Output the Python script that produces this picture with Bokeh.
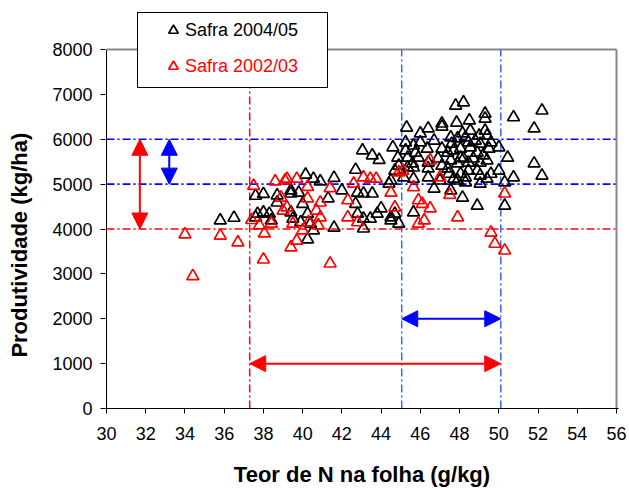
from bokeh.plotting import figure
from bokeh.models import (Range1d, FixedTicker, Arrow, NormalHead, Legend,
                          LegendItem)
from bokeh.embed import file_html
from bokeh.resources import INLINE

# ---- data: Safra 2004/05 (black) ----
safra0405_n = [
    35.8, 36.5, 37.6, 37.6, 38.0, 37.7, 38.0, 38.3, 38.4, 38.7, 38.7, 39.4, 39.4, 39.8,
    39.4, 39.5, 39.9, 40.0, 40.15, 40.55, 40.9, 40.25, 40.4, 40.25, 40.55, 41.3, 41.6,
    41.6, 42.0, 42.7, 42.8, 42.7, 42.8, 43.1, 43.55, 43.1, 43.1, 43.45, 43.8, 43.9, 44.4,
    44.5, 44.7, 43.05, 43.55,
    47.8, 48.2, 52.2, 50.75, 49.3, 49.3, 47.85, 48.5, 47.1, 47.1, 45.3, 46.4, 46.0, 48.55,
    49.3, 48.15, 51.8, 49.0, 49.4, 44.6, 45.25, 45.25, 45.65, 46.0, 46.7, 47.55, 47.6,
    47.9, 48.3, 48.45, 48.8, 49.05, 49.6, 50.0, 44.85, 45.35, 45.75, 45.9, 46.35, 47.1,
    47.4, 47.7, 48.05, 48.05, 48.55, 48.9, 49.2, 49.5, 50.45, 44.9, 45.35, 45.6, 46.4,
    46.9, 47.1, 47.55, 47.9, 48.2, 48.45, 48.7, 49.05, 49.4, 51.8, 44.7, 45.15, 45.65,
    46.4, 46.4, 47.4, 47.45, 48.05, 48.3, 48.45, 48.9, 49.05, 49.6, 50.0, 50.75, 52.2,
    44.5, 45.65, 47.0, 47.7, 47.9, 48.3, 49.05, 49.4, 50.3, 46.7, 47.55, 48.15, 50.3,
    48.9, 45.65, 44.5, 44.9, 44.0,
]
safra0405_prod = [
    4190, 4250, 4740, 4260, 4780, 4340, 4370, 4340, 4190, 4750, 4590, 4860, 4790, 4810,
    4370, 4230, 4150, 4560, 5210, 5120, 5060, 4340, 4120, 3770, 3970, 4680, 5140,
    4030, 4860, 5320, 4810, 4560, 4340, 4790, 4790, 4230, 4010, 4230, 4340, 5540, 5010,
    4190, 4340, 5750, 5640,
    6750, 6820, 6640, 6490, 6570, 6460, 6370, 6420, 6350, 6280, 6260, 6240, 6130, 6190,
    6190, 6130, 6240, 6080, 6080, 5820, 5930, 5750, 5860, 5930, 5970, 6040, 5900,
    6020, 6040, 5930, 5970, 5900, 5930, 5820, 5590, 5590, 5700, 5590, 5790, 5790,
    5700, 5750, 5790, 5590, 5820, 5700, 5640, 5790, 5590, 5410, 5370, 5460, 5480,
    5570, 5410, 5530, 5460, 5570, 5480, 5570, 5480, 5530, 5460, 5300, 5150, 5370,
    5350, 5150, 5350, 5230, 5230, 5150, 5300, 5300, 5190, 5230, 5300, 5150, 5190,
    5080, 5120, 5080, 5120, 5080, 5040, 5010, 5120, 5040, 4900, 4860, 4700, 4520,
    4520, 4370, 4260, 4120, 4460,
]

# ---- data: Safra 2002/03 (red) ----
safra0203_n = [
    34.0, 34.4, 35.8, 36.7, 37.4, 37.5, 37.8, 38.05, 38.4, 38.0, 38.6, 38.9, 39.1, 39.2,
    39.0, 39.7, 39.5, 39.4, 39.7, 40.0, 40.25, 40.25, 40.3, 40.7, 40.8, 40.9, 40.9, 41.4,
    41.4, 42.3, 42.3, 42.8, 42.6, 43.1, 43.45, 43.75, 44.5, 44.7, 44.9, 46.5, 45.1, 47.0,
    45.65, 45.9, 46.1, 46.5, 45.9, 46.2, 47.5, 47.9, 49.6, 49.8, 50.3, 50.3, 39.2,
]
safra0203_prod = [
    3880, 2950, 3850, 3700, 4200, 4960, 4080, 3900, 4120, 3320, 5060, 4700, 5080, 4480,
    4410, 5120, 4120, 3590, 3740, 3970, 4940, 4680, 4150, 4410, 4080, 4590, 4260, 3230,
    4910, 4640, 4260, 4150, 5010, 5150, 5120, 5120, 4810, 4480, 5260, 5530, 5300, 5150,
    4930, 4640, 4560, 4460, 4120, 4190, 4760, 4260, 3920, 3670, 3520, 4790, 5120,
]

# ---- reference levels ----
prod_levels_blue = [6000, 5000]
prod_level_red = 4000
n_red = 37.3
n_blue = [45.05, 50.1]

x_min, x_max = 30, 56
y_min, y_max = 0, 8000
x_ticks = list(range(30, 57, 2))
y_ticks = list(range(0, 8001, 1000))

series_labels = ["Safra 2004/05", "Safra 2002/03"]

FONT = "Liberation Sans"
RED = "#FF0000"
BLUE = "#0000FF"
BLUE_V = "#3366FF"
GRAY = "#888888"
DASH = "8 3 2 3"

# ---- layout (pixels) ----
W, H = 626, 489
AX_LEFT, AX_RIGHT, AX_TOP, AX_BOTTOM = 106, 616, 49, 408   # plot area of the axes
FRAME_TOP = 8                                               # frame extended for the legend
ppx = (AX_RIGHT - AX_LEFT) / (x_max - x_min)
ppy = (AX_BOTTOM - AX_TOP) / (y_max - y_min)
pad_l, pad_r = 1.0, 2.0
x_lo = x_min - pad_l / ppx
x_hi = x_max + pad_r / ppx
y_hi = y_max + (AX_TOP - FRAME_TOP) / ppy

p = figure(width=W, height=H, output_backend="svg", toolbar_location=None,
           x_range=Range1d(x_lo, x_hi), y_range=Range1d(y_min, y_hi),
           min_border_left=int(AX_LEFT - pad_l), min_border_right=int(W - AX_RIGHT - pad_r),
           min_border_top=FRAME_TOP, min_border_bottom=H - AX_BOTTOM)
p.background_fill_color = "white"
p.border_fill_color = "white"
p.outline_line_color = None
p.xgrid.visible = False
p.ygrid.visible = False

for ax in (p.xaxis[0], p.yaxis[0]):
    ax.axis_line_color = "black"
    ax.axis_line_width = 1
    ax.major_tick_line_color = "black"
    ax.major_tick_out = 5
    ax.major_tick_in = 0
    ax.minor_tick_line_color = None
    ax.major_label_text_font = FONT
    ax.major_label_text_font_size = "18px"
    ax.major_label_text_color = "black"
    ax.axis_label_text_font = FONT
    ax.axis_label_text_font_size = "22px"
    ax.axis_label_text_font_style = "bold"
    ax.axis_label_text_color = "black"

p.yaxis.axis_line_color = None
p.xaxis.ticker = FixedTicker(ticks=x_ticks)
p.yaxis.ticker = FixedTicker(ticks=y_ticks)
p.xaxis.axis_label = "Teor de N na folha (g/kg)"
# trailing no-break spaces re-centre the title on the 0-8000 axis span
p.yaxis.axis_label = "Produtividade (kg/ha)" + "\u00a0" * 12
p.xaxis.major_label_standoff = 13
p.yaxis.major_label_standoff = 8
p.xaxis.axis_label_standoff = 19
p.yaxis.axis_label_standoff = 17

# plot-area border: black y axis line, gray top and right edges
p.segment(x0=[x_min], y0=[y_min], x1=[x_min], y1=[y_max], line_color="black", line_width=1)
p.segment(x0=[x_min, x_max], y0=[y_max, y_min], x1=[x_max, x_max], y1=[y_max, y_max],
          line_color=GRAY, line_width=2)

# reference lines
for lvl in prod_levels_blue:
    p.segment(x0=[x_min], y0=[lvl], x1=[x_max], y1=[lvl], line_color=BLUE,
              line_dash=DASH, line_width=1.6)
p.segment(x0=[x_min], y0=[prod_level_red], x1=[x_max], y1=[prod_level_red],
          line_color=RED, line_dash=DASH, line_width=1.5)
p.segment(x0=[n_red], y0=[y_min], x1=[n_red], y1=[y_max], line_color=RED,
          line_dash=DASH, line_width=1.5)
for v in n_blue:
    p.segment(x0=[v], y0=[y_min], x1=[v], y1=[y_max], line_color=BLUE_V,
              line_dash=DASH, line_width=1.5)

r_black = p.scatter(safra0405_n, safra0405_prod, marker="triangle", size=12,
                    fill_color=None, line_color="black", line_width=1.7)
r_red = p.scatter(safra0203_n, safra0203_prod, marker="triangle", size=12,
                  fill_color=None, line_color=RED, line_width=1.7)
r_dummy = p.scatter([], [], marker="circle", size=0, fill_alpha=0, line_alpha=0)

# arrows
def arrow(x0, y0, x1, y1, color):
    p.add_layout(Arrow(
        start=NormalHead(size=16, fill_color=color, line_color=color, line_width=1),
        end=NormalHead(size=16, fill_color=color, line_color=color, line_width=1),
        x_start=x0, y_start=y0, x_end=x1, y_end=y1,
        line_color=color, line_width=2))

arrow(31.7, prod_level_red, 31.7, prod_levels_blue[0], RED)
arrow(33.2, prod_levels_blue[1], 33.2, prod_levels_blue[0], BLUE)
arrow(n_red, 1000, n_blue[1], 1000, RED)
arrow(n_blue[0], 2000, n_blue[1], 2000, BLUE)

# legend: a white bordered box plus one legend per series (own text colour)
box = Legend(items=[LegendItem(label=" ", renderers=[r_dummy])],
             location=(137 - AX_LEFT + pad_l, AX_BOTTOM - 88), padding=0, spacing=0,
             margin=0, glyph_width=1, glyph_height=1, label_standoff=0,
             label_width=188, label_height=74,
             border_line_color="black", border_line_width=1, border_line_alpha=1,
             background_fill_color="white", background_fill_alpha=1,
             label_text_font_size="10px")
p.add_layout(box, "center")

GW = 24
def make_legend(renderer, label, color, row_center):
    lg = Legend(items=[LegendItem(label=label, renderers=[renderer])],
                location=(173 - GW / 2 - AX_LEFT + pad_l, AX_BOTTOM - row_center - GW / 2),
                padding=0, spacing=0, margin=0,
                glyph_width=GW, glyph_height=GW, label_height=20,
                label_standoff=0, border_line_alpha=0, background_fill_alpha=0,
                label_text_font=FONT, label_text_font_size="18px",
                label_text_color=color)
    p.add_layout(lg, "center")
    return lg

make_legend(r_black, series_labels[0], "black", 30)
make_legend(r_red, series_labels[1], RED, 66)

open("out.html", "w").write(file_html(p, INLINE))
